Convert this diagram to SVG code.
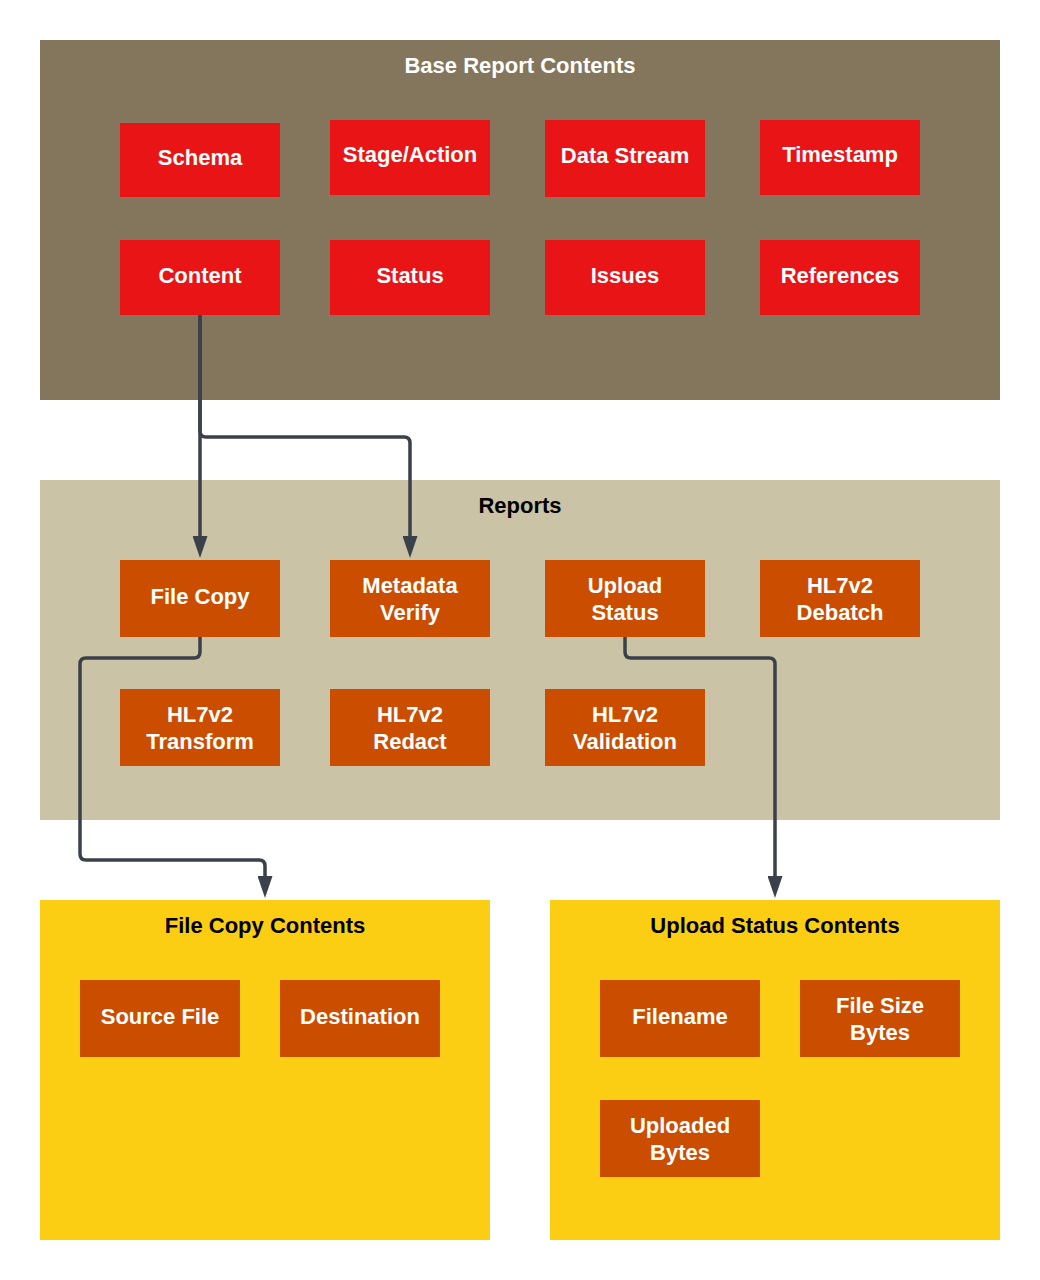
<svg xmlns="http://www.w3.org/2000/svg" width="1040" height="1280" viewBox="0 0 1040 1280">
<style>
text{font-family:"Liberation Sans",Arial,sans-serif;font-weight:bold;font-size:22px;text-anchor:middle}
.t{fill:#fff}
.h{fill:#000}
.red{fill:#E81416}
.org{fill:#CB4E00}
.c{fill:none;stroke:#3A414A;stroke-width:3.5;stroke-linejoin:round}
</style>
<defs>
<marker id="ah" viewBox="0 0 22 15" refX="9" refY="7.5" markerWidth="22" markerHeight="15" markerUnits="userSpaceOnUse" orient="auto">
<path d="M0,0 L22,7.5 L0,15 Z" fill="#3A414A"/>
</marker>
</defs>
<rect width="1040" height="1280" fill="#fff"/>
<g id="base-container"><rect x="40" y="40" width="960" height="360" fill="#84765C"/><text class="t" x="520" y="73">Base Report Contents</text></g>
<g id="reports-container"><rect x="40" y="480" width="960" height="340" fill="#CBC3A5"/><text class="h" x="520" y="513">Reports</text></g>
<g id="filecopy-container"><rect x="40" y="900" width="450" height="340" fill="#FBCE14"/><text class="h" x="265" y="933">File Copy Contents</text></g>
<g id="upload-container"><rect x="550" y="900" width="450" height="340" fill="#FBCE14"/><text class="h" x="775" y="933">Upload Status Contents</text></g>

<g id="schema"><rect class="red" x="120" y="123" width="160" height="74"/><text class="t" x="200" y="165">Schema</text></g>
<g id="stage"><rect class="red" x="330" y="120" width="160" height="75"/><text class="t" x="410" y="162">Stage/Action</text></g>
<g id="datastream"><rect class="red" x="545" y="120" width="160" height="77"/><text class="t" x="625" y="163">Data Stream</text></g>
<g id="timestamp"><rect class="red" x="760" y="120" width="160" height="75"/><text class="t" x="840" y="162">Timestamp</text></g>
<g id="content"><rect class="red" x="120" y="240" width="160" height="75"/><text class="t" x="200" y="283">Content</text></g>
<g id="status"><rect class="red" x="330" y="240" width="160" height="75"/><text class="t" x="410" y="283">Status</text></g>
<g id="issues"><rect class="red" x="545" y="240" width="160" height="75"/><text class="t" x="625" y="283">Issues</text></g>
<g id="references"><rect class="red" x="760" y="240" width="160" height="75"/><text class="t" x="840" y="283">References</text></g>

<g id="filecopy"><rect class="org" x="120" y="560" width="160" height="77"/><text class="t" x="200" y="604">File Copy</text></g>
<g id="metadata"><rect class="org" x="330" y="560" width="160" height="77"/><text class="t" x="410" y="593">Metadata</text><text class="t" x="410" y="620">Verify</text></g>
<g id="uploadstatus"><rect class="org" x="545" y="560" width="160" height="77"/><text class="t" x="625" y="593">Upload</text><text class="t" x="625" y="620">Status</text></g>
<g id="debatch"><rect class="org" x="760" y="560" width="160" height="77"/><text class="t" x="840" y="593">HL7v2</text><text class="t" x="840" y="620">Debatch</text></g>
<g id="transform"><rect class="org" x="120" y="689" width="160" height="77"/><text class="t" x="200" y="722">HL7v2</text><text class="t" x="200" y="749">Transform</text></g>
<g id="redact"><rect class="org" x="330" y="689" width="160" height="77"/><text class="t" x="410" y="722">HL7v2</text><text class="t" x="410" y="749">Redact</text></g>
<g id="validation"><rect class="org" x="545" y="689" width="160" height="77"/><text class="t" x="625" y="722">HL7v2</text><text class="t" x="625" y="749">Validation</text></g>

<g id="sourcefile"><rect class="org" x="80" y="980" width="160" height="77"/><text class="t" x="160" y="1024">Source File</text></g>
<g id="destination"><rect class="org" x="280" y="980" width="160" height="77"/><text class="t" x="360" y="1024">Destination</text></g>
<g id="filename"><rect class="org" x="600" y="980" width="160" height="77"/><text class="t" x="680" y="1024">Filename</text></g>
<g id="filesize"><rect class="org" x="800" y="980" width="160" height="77"/><text class="t" x="880" y="1013">File Size</text><text class="t" x="880" y="1040">Bytes</text></g>
<g id="uploadedbytes"><rect class="org" x="600" y="1100" width="160" height="77"/><text class="t" x="680" y="1133">Uploaded</text><text class="t" x="680" y="1160">Bytes</text></g>

<g id="connectors">
<path class="c" d="M200,315 L200,545" marker-end="url(#ah)"/>
<path class="c" d="M200,315 L200,431 Q200,437 206,437 L404,437 Q410,437 410,443 L410,545" marker-end="url(#ah)"/>
<path class="c" d="M200,637 L200,652 Q200,658 194,658 L86,658 Q80,658 80,664 L80,854 Q80,860 86,860 L259,860 Q265,860 265,866 L265,885" marker-end="url(#ah)"/>
<path class="c" d="M625,637 L625,652 Q625,658 631,658 L769,658 Q775,658 775,664 L775,885" marker-end="url(#ah)"/>
</g>
</svg>
